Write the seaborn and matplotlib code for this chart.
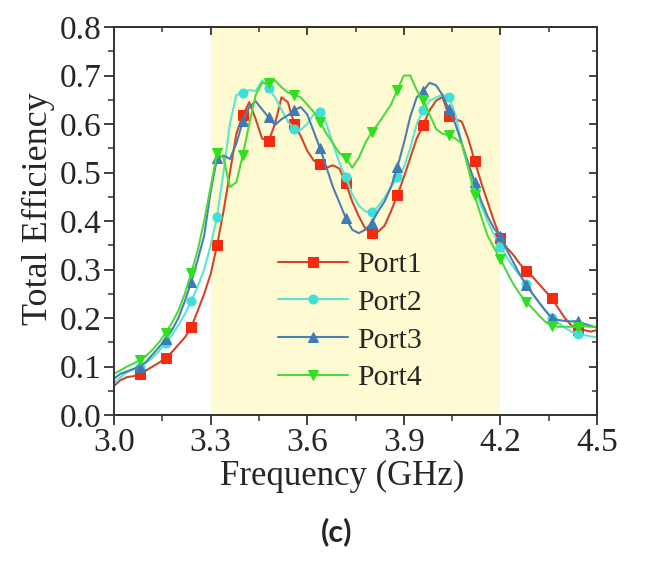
import numpy as np
import pandas as pd
import matplotlib
matplotlib.use('Agg')
import matplotlib.pyplot as plt
from matplotlib.ticker import MultipleLocator
import seaborn as sns

# frequency grid (GHz) and efficiency
freq = np.round(np.arange(3.0, 4.501, 0.02), 2)

port1 = [0.060, 0.072, 0.078, 0.080, 0.085, 0.092, 0.100, 0.108, 0.118, 0.130,
         0.145, 0.160, 0.181, 0.215, 0.250, 0.290, 0.350, 0.420, 0.500, 0.580,
         0.618, 0.645, 0.610, 0.570, 0.565, 0.600, 0.655, 0.645, 0.600, 0.575,
         0.545, 0.525, 0.517, 0.510, 0.515, 0.508, 0.478, 0.440, 0.410, 0.385,
         0.375, 0.378, 0.390, 0.420, 0.453, 0.490, 0.530, 0.570, 0.598, 0.628,
         0.648, 0.656, 0.617, 0.610, 0.605, 0.570, 0.524, 0.480, 0.440, 0.400,
         0.365, 0.345, 0.330, 0.312, 0.297, 0.285, 0.270, 0.255, 0.241, 0.220,
         0.200, 0.185, 0.175, 0.175, 0.172, 0.175]
port2 = [0.065, 0.078, 0.088, 0.094, 0.100, 0.108, 0.118, 0.132, 0.148, 0.165,
         0.185, 0.208, 0.235, 0.265, 0.300, 0.350, 0.408, 0.500, 0.600, 0.660,
         0.664, 0.670, 0.668, 0.690, 0.674, 0.655, 0.630, 0.605, 0.590, 0.588,
         0.600, 0.620, 0.625, 0.600, 0.560, 0.520, 0.490, 0.455, 0.432, 0.420,
         0.418, 0.430, 0.448, 0.470, 0.490, 0.510, 0.550, 0.600, 0.629, 0.648,
         0.655, 0.660, 0.656, 0.620, 0.560, 0.510, 0.470, 0.432, 0.400, 0.372,
         0.347, 0.325, 0.305, 0.288, 0.270, 0.250, 0.232, 0.215, 0.200, 0.190,
         0.180, 0.172, 0.167, 0.165, 0.162, 0.160]
port3 = [0.075, 0.085, 0.090, 0.095, 0.100, 0.110, 0.125, 0.140, 0.157, 0.175,
         0.200, 0.235, 0.274, 0.320, 0.370, 0.460, 0.530, 0.535, 0.528, 0.560,
         0.606, 0.635, 0.647, 0.630, 0.614, 0.598, 0.610, 0.618, 0.629, 0.635,
         0.620, 0.585, 0.550, 0.510, 0.470, 0.438, 0.406, 0.382, 0.375, 0.382,
         0.396, 0.420, 0.440, 0.470, 0.511, 0.560, 0.615, 0.655, 0.668, 0.685,
         0.680, 0.660, 0.630, 0.600, 0.560, 0.520, 0.480, 0.442, 0.410, 0.385,
         0.369, 0.340, 0.315, 0.290, 0.268, 0.250, 0.232, 0.215, 0.200, 0.196,
         0.194, 0.193, 0.194, 0.188, 0.184, 0.180]
port4 = [0.085, 0.092, 0.100, 0.106, 0.113, 0.122, 0.135, 0.150, 0.169, 0.190,
         0.215, 0.250, 0.293, 0.340, 0.400, 0.470, 0.540, 0.530, 0.470, 0.480,
         0.536, 0.600, 0.660, 0.685, 0.684, 0.690, 0.676, 0.665, 0.660, 0.655,
         0.640, 0.625, 0.604, 0.580, 0.560, 0.540, 0.530, 0.510, 0.530, 0.560,
         0.583, 0.600, 0.620, 0.640, 0.670, 0.700, 0.700, 0.670, 0.650, 0.620,
         0.590, 0.580, 0.577, 0.570, 0.560, 0.510, 0.453, 0.410, 0.370, 0.345,
         0.322, 0.295, 0.270, 0.250, 0.233, 0.220, 0.205, 0.192, 0.184, 0.182,
         0.182, 0.182, 0.182, 0.183, 0.182, 0.182]

ports = ['Port1', 'Port2', 'Port3', 'Port4']
series = [port1, port2, port3, port4]
line_colors = ['#D2452B', '#5EE3D6', '#4A7FB0', '#4FD83E']
marker_colors = ['#F62A0C', '#3EE0D8', '#3F7AB8', '#2EE01E']
markers = ['s', 'o', '^', 'v']

sns.set_style('ticks')
plt.rcParams['font.family'] = ['Liberation Serif', 'DejaVu Serif']

fig = plt.figure(figsize=(6.5, 5.61), dpi=100)
ax = fig.add_axes([0.1754, 0.2602, 0.7431, 0.6916])

ax.axvspan(3.3, 4.2, color='#FEFBD2', zorder=0, lw=0)

for name, vals, lc, mc, mk in zip(ports, series, line_colors, marker_colors, markers):
    sns.lineplot(x=freq, y=vals, ax=ax, color=lc, lw=1.5, marker=mk,
                 markersize=6.5, markerfacecolor=mc, markeredgecolor=mc,
                 markevery=(4, 4), label=name)

ax.set_xlim(3.0, 4.5)
ax.set_ylim(0.0, 0.8)
ax.xaxis.set_major_locator(MultipleLocator(0.3))
ax.xaxis.set_minor_locator(MultipleLocator(0.15))
ax.yaxis.set_major_locator(MultipleLocator(0.1))
ax.yaxis.set_minor_locator(MultipleLocator(0.05))
ax.xaxis.set_major_formatter(plt.FormatStrFormatter('%.1f'))
ax.yaxis.set_major_formatter(plt.FormatStrFormatter('%.1f'))
ax.tick_params(which='major', direction='out', length=7, width=1.3,
               labelsize=24, color='#333333', pad=2)
ax.tick_params(which='minor', direction='out', length=4, width=1.1, color='#333333')

for s in ax.spines.values():
    s.set_linewidth(1.4)
    s.set_color('#333333')

# mirrored ticks on top and right, pointing inward
top = ax.secondary_xaxis('top')
top.xaxis.set_major_locator(MultipleLocator(0.3))
top.xaxis.set_minor_locator(MultipleLocator(0.15))
top.tick_params(which='major', direction='in', length=6, width=1.3, labeltop=False, color='#333333')
top.tick_params(which='minor', direction='in', length=3.5, width=1.1, color='#333333')
right = ax.secondary_yaxis('right')
right.yaxis.set_major_locator(MultipleLocator(0.1))
right.yaxis.set_minor_locator(MultipleLocator(0.05))
right.tick_params(which='major', direction='in', length=6, width=1.3, labelright=False, color='#333333')
right.tick_params(which='minor', direction='in', length=3.5, width=1.1, color='#333333')
for sec in (top, right):
    for s in sec.spines.values():
        s.set_linewidth(1.4)
        s.set_color('#333333')

ax.set_xlabel('Frequency (GHz)', fontsize=25)
ax.set_ylabel('Total Efficiency', fontsize=26)
ax.xaxis.set_label_coords(0.472, -0.115)
ax.yaxis.set_label_coords(-0.122, 0.533)

ax.legend(loc='upper left', bbox_to_anchor=(0.3395, 0.422), frameon=False,
          fontsize=21.5, handlelength=2.34, handletextpad=0.3, labelspacing=0.36,
          borderpad=0, borderaxespad=0)

fig.text(0.518, 0.052, '(c)', fontsize=22, fontweight='bold',
         family=['Lato', 'DejaVu Sans'], ha='center', va='center')

fig.savefig('out.png', dpi=100)
